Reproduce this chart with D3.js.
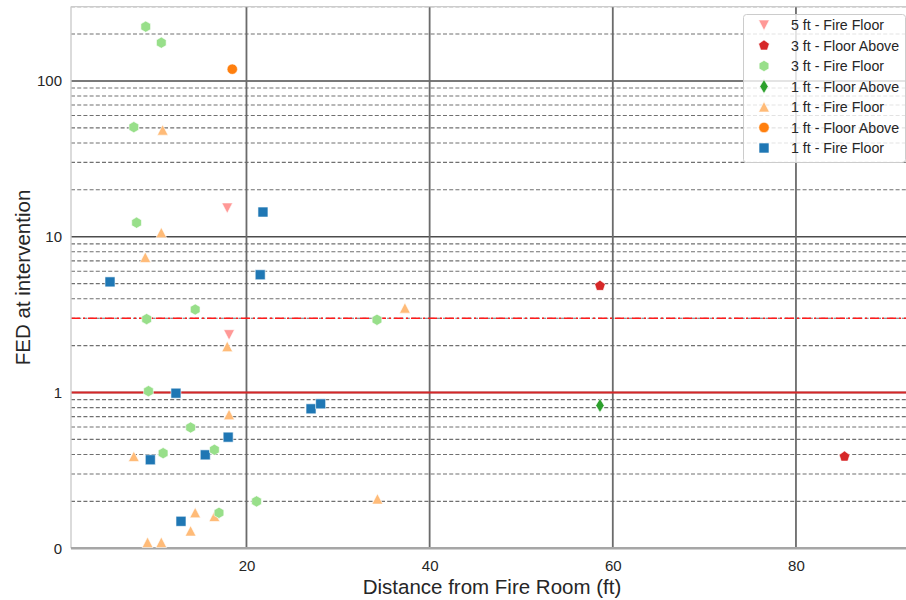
<!DOCTYPE html>
<html><head><meta charset="utf-8">
<script src="https://cdn.jsdelivr.net/npm/d3@7"></script>
<style>body{margin:0;background:#fff} text{font-family:"Liberation Sans",Arial,Helvetica,sans-serif}</style>
</head><body><svg id="c" width="906" height="600"></svg>
<script>
// ---- data ----
const seriesLabels = ["5 ft - Fire Floor","3 ft - Floor Above","3 ft - Fire Floor","1 ft - Floor Above","1 ft - Fire Floor","1 ft - Floor Above","1 ft - Fire Floor"];
const seriesColors = ["#ff9896","#d62728","#98df8a","#2ca02c","#ffbb78","#ff7f0e","#1f77b4"];
const seriesMarkers = ["v","p","h","d","^","o","s"];

const ft5FireX = [17.9, 18.1];
const ft5FireY = [15.3, 2.35];
const ft3AboveX = [58.6, 85.3];
const ft3AboveY = [4.84, 0.388];
const ft3FireX = [9.0, 10.7, 7.7, 8.0, 9.1, 14.4, 9.3, 34.25, 13.9, 10.9, 16.5, 17.0, 21.1];
const ft3FireY = [223, 176, 50.5, 12.3, 2.96, 3.41, 1.02, 2.93, 0.596, 0.408, 0.429, 0.169, 0.2];
const ft1AboveDX = [58.6];
const ft1AboveDY = [0.826];
const ft1FireTX = [10.85, 10.7, 8.95, 17.9, 18.1, 7.7, 14.4, 13.9, 9.2, 10.7, 16.5, 37.3, 34.3];
const ft1FireTY = [48.3, 10.6, 7.36, 1.97, 0.72, 0.388, 0.169, 0.129, 0.109, 0.109, 0.16, 3.48, 0.207];
const ft1AboveCX = [18.45];
const ft1AboveCY = [119];
const ft1FireSX = [5.1, 21.8, 21.5, 12.3, 18.0, 15.5, 9.5, 12.85, 27.05, 28.1];
const ft1FireSY = [5.13, 14.4, 5.7, 0.99, 0.517, 0.398, 0.37, 0.149, 0.786, 0.846];

const seriesX = [ft5FireX, ft3AboveX, ft3FireX, ft1AboveDX, ft1FireTX, ft1AboveCX, ft1FireSX];
const seriesY = [ft5FireY, ft3AboveY, ft3FireY, ft1AboveDY, ft1FireTY, ft1AboveCY, ft1FireSY];

const xTicks = [20, 40, 60, 80];
const yMajorTicks = [0.1, 1, 10, 100];
const yMinorTicks = [0.2,0.3,0.4,0.5,0.6,0.7,0.8,0.9,2,3,4,5,6,7,8,9,20,30,40,50,60,70,80,90,200,300];
const refLines = [{v:1, kind:"solid"}, {v:3, kind:"dashdot"}];
const xLabel = "Distance from Fire Room (ft)";
const yLabel = "FED at intervention";

// ---- layout ----
const L = 71, R = 913, T = 6.6, B = 548.3;
const svg = d3.select("#c");
const x = d3.scaleLinear().domain([0.84, 92.78]).range([L, R]);
const y = d3.scaleLog().domain([0.1, 300]).range([B, T]);

const g = svg.append("g");
svg.append("defs").append("clipPath").attr("id","clip")
  .append("rect").attr("x",L).attr("y",T-2).attr("width",R-L).attr("height",B-T+4);

// minor gridlines (dashed)
g.selectAll(".minor").data(yMinorTicks).enter().append("line")
  .attr("x1",L).attr("x2",R).attr("y1",d=>y(d)).attr("y2",d=>y(d))
  .attr("stroke","#707070").attr("stroke-width",1.1).attr("stroke-dasharray","4,2.2");
// major horizontal
g.selectAll(".major").data(yMajorTicks.filter(d=>d>0.1)).enter().append("line")
  .attr("x1",L).attr("x2",R).attr("y1",d=>y(d)).attr("y2",d=>y(d))
  .attr("stroke","#4d4d4d").attr("stroke-width",1.4);
// vertical grid
g.selectAll(".vg").data(xTicks).enter().append("line")
  .attr("x1",d=>x(d)).attr("x2",d=>x(d)).attr("y1",T).attr("y2",B)
  .attr("stroke","#6b6b6b").attr("stroke-width",1.8);
// reference lines
refLines.forEach(r=>{
  const ln = g.append("line").attr("x1",L).attr("x2",R).attr("y1",y(r.v)).attr("y2",y(r.v));
  if(r.kind==="solid") ln.attr("stroke","#d62728").attr("stroke-width",2);
  else ln.attr("stroke","#ff1a1a").attr("stroke-width",1.6).attr("stroke-dasharray","9,3,2,3");
});
// spines
g.append("line").attr("x1",L).attr("x2",R).attr("y1",T).attr("y2",T).attr("stroke","#cccccc").attr("stroke-width",1.2);
g.append("line").attr("x1",L).attr("x2",L).attr("y1",T).attr("y2",B).attr("stroke","#cccccc").attr("stroke-width",1.4);
g.append("line").attr("x1",L).attr("x2",R).attr("y1",B).attr("y2",B).attr("stroke","#a6a6a6").attr("stroke-width",2.4);

// axes labels via d3 axes
const xAxis = d3.axisBottom(x).tickValues(xTicks).tickSize(0).tickPadding(12).tickFormat(d3.format("d"));
const xa = svg.append("g").attr("transform",`translate(0,${B})`).call(xAxis);
xa.select(".domain").remove();
xa.selectAll("text").attr("font-size",15).attr("fill","#262626").style("font-family","'Liberation Sans',Arial,sans-serif");
const yAxis = d3.axisLeft(y).tickValues(yMajorTicks).tickSize(0).tickPadding(9)
  .tickFormat(d=>d3.format("d")(Math.floor(d)));
const ya = svg.append("g").attr("transform",`translate(${L},0)`).call(yAxis);
ya.select(".domain").remove();
ya.selectAll("text").attr("font-size",15).attr("fill","#262626").style("font-family","'Liberation Sans',Arial,sans-serif");

svg.append("text").attr("x",(L+R)/2).attr("y",594).attr("text-anchor","middle")
  .attr("font-size",20.5).attr("fill","#262626").text(xLabel);
svg.append("text").attr("transform",`translate(30,${(T+B)/2}) rotate(-90)`).attr("text-anchor","middle")
  .attr("font-size",20.5).attr("fill","#262626").text(yLabel);

// ---- markers ----
function poly(n, r, rot){
  const pts=[];
  for(let i=0;i<n;i++){const a=rot+i*2*Math.PI/n; pts.push([r*Math.sin(a), -r*Math.cos(a)]);}
  return "M"+pts.map(p=>p[0].toFixed(2)+","+p[1].toFixed(2)).join("L")+"Z";
}
function markerPath(m){
  switch(m){
    case "s": return "M-5,-5L5,-5L5,5L-5,5Z";
    case "o": return "M5.2,0A5.2,5.2 0 1,1 -5.2,0A5.2,5.2 0 1,1 5.2,0Z";
    case "^": return "M0,-5.4L5.4,5L-5.4,5Z";
    case "v": return "M0,5.4L5.4,-5L-5.4,-5Z";
    case "h": return poly(6,5.6,0);
    case "p": return poly(5,5.6,0);
    case "d": return "M0,-7L4.2,0L0,7L-4.2,0Z";
  }
}
const plotG = svg.append("g").attr("clip-path","url(#clip)");
for(let s=seriesLabels.length-1;s>=0;s--){
  const pts = seriesX[s].map((vx,i)=>({x:vx,y:seriesY[s][i]}));
  plotG.selectAll(null).data(pts).enter().append("path")
    .attr("d",markerPath(seriesMarkers[s]))
    .attr("transform",d=>`translate(${x(d.x)},${y(d.y)})`)
    .attr("fill",seriesColors[s]).attr("stroke","#ffffff").attr("stroke-width",0.6);
}

// ---- legend ----
const lg = svg.append("g");
lg.append("rect").attr("x",743.5).attr("y",14.5).attr("width",162).attr("height",148).attr("rx",3)
  .attr("fill","#ffffff").attr("fill-opacity",0.8).attr("stroke","#cccccc").attr("stroke-width",1);
seriesLabels.forEach((lab,i)=>{
  const yy = 25 + i*20.5;
  lg.append("path").attr("d",markerPath(seriesMarkers[i])).attr("transform",`translate(764,${yy})`)
    .attr("fill",seriesColors[i]).attr("stroke","#fff").attr("stroke-width",0.6);
  lg.append("text").attr("x",791).attr("y",yy+5).attr("font-size",14.2).attr("fill","#262626").text(lab);
});
</script></body></html>
